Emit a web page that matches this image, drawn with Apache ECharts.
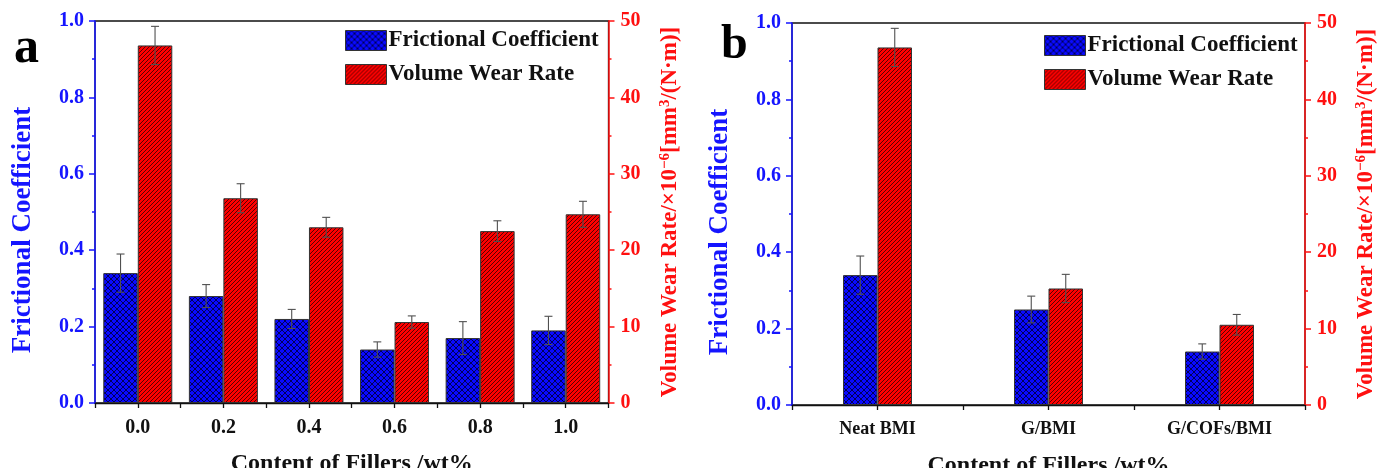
<!DOCTYPE html>
<html>
<head>
<meta charset="utf-8">
<script src="https://cdn.jsdelivr.net/npm/echarts@6/dist/echarts.min.js"></script>
<style>
html,body{margin:0;padding:0;background:#fff;}
#c{width:1379px;height:468px;}
</style>
</head>
<body>
<div id="c"></div>
<script>
// ---------- data ----------
var catsA = ['0.0', '0.2', '0.4', '0.6', '0.8', '1.0'];
var fcA = [0.34, 0.28, 0.22, 0.14, 0.17, 0.19];
var fcErrA = [0.05, 0.03, 0.025, 0.02, 0.043, 0.037];
var vwrA = [46.8, 26.8, 23.0, 10.6, 22.5, 24.7];
var vwrErrA = [2.5, 1.9, 1.3, 0.8, 1.35, 1.7];

var catsB = ['Neat BMI', 'G/BMI', 'G/COFs/BMI'];
var fcB = [0.34, 0.25, 0.14];
var fcErrB = [0.05, 0.035, 0.02];
var vwrB = [46.8, 15.25, 10.5];
var vwrErrB = [2.5, 1.85, 1.35];

var leftTicks = {min: 0, max: 1.0, interval: 0.2};
var rightTicks = {min: 0, max: 50, interval: 10};

// ---------- style ----------
var SERIF = '"Liberation Serif", "Times New Roman", serif';
var BLUE = '#1515ff';
var RED = '#ff1010';
var BAR_W = 34.5;

function makePattern(bg, line, size, cross) {
  var cv = document.createElement('canvas');
  cv.width = size; cv.height = size;
  var ctx = cv.getContext('2d');
  ctx.fillStyle = bg; ctx.fillRect(0, 0, size, size);
  ctx.strokeStyle = line; ctx.lineWidth = 1;
  ctx.beginPath();
  ctx.moveTo(-1, size + 1); ctx.lineTo(size + 1, -1);
  ctx.moveTo(-1, 1); ctx.lineTo(1, -1);
  ctx.moveTo(size - 1, size + 1); ctx.lineTo(size + 1, size - 1);
  if (cross) {
    ctx.moveTo(-1, -1); ctx.lineTo(size + 1, size + 1);
    ctx.moveTo(size - 1, -1); ctx.lineTo(size + 1, 1);
    ctx.moveTo(-1, size - 1); ctx.lineTo(1, size + 1);
  }
  ctx.stroke();
  return cv;
}
var bluePat = {image: makePattern('#0a0aff', '#00005a', 6, true), repeat: 'repeat'};
var redPat = {image: makePattern('#ff0000', '#5a0000', 4, false), repeat: 'repeat'};

function errRenderer(sign) {
  return function (params, api) {
    var x = api.value(0), v = api.value(1), e = api.value(2);
    var hi = api.coord([x, v + e]);
    var lo = api.coord([x, v - e]);
    var cx = hi[0] + sign * BAR_W / 2;
    var cap = 4;
    var st = {stroke: '#505050', lineWidth: 1.1};
    return {
      type: 'group',
      children: [
        {type: 'line', shape: {x1: cx, y1: hi[1], x2: cx, y2: lo[1]}, style: st},
        {type: 'line', shape: {x1: cx - cap, y1: hi[1], x2: cx + cap, y2: hi[1]}, style: st},
        {type: 'line', shape: {x1: cx - cap, y1: lo[1], x2: cx + cap, y2: lo[1]}, style: st}
      ]
    };
  };
}
function errData(vals, errs) {
  return vals.map(function (v, i) { return [i, v, errs[i]]; });
}

var rightNameText = 'Volume Wear Rate/×10{s|−6}[mm{s|3}/(N·m)]';

function buildAxes(cats, gridIndex, labelSize) {
  var xMain = {
    type: 'category', gridIndex: gridIndex, data: cats,
    axisLine: {lineStyle: {color: '#111', width: 1.3}},
    axisTick: {show: true, length: 5, lineStyle: {color: '#111', width: 1.3}},
    axisLabel: {color: '#111', fontFamily: SERIF, fontWeight: 'bold', fontSize: labelSize, margin: 15},
    name: 'Content of Fillers /wt%', nameLocation: 'middle', nameGap: 49,
    nameTextStyle: {color: '#111', fontFamily: SERIF, fontWeight: 'bold', fontSize: 24},
    splitLine: {show: false}
  };
  var xTicks = {
    type: 'category', gridIndex: gridIndex, data: cats, position: 'bottom',
    axisLine: {show: false},
    axisTick: {show: true, alignWithLabel: true, length: 5, lineStyle: {color: '#111', width: 1.3}},
    axisLabel: {show: false}, splitLine: {show: false}
  };
  var yLeft = {
    type: 'value', gridIndex: gridIndex, position: 'left',
    min: leftTicks.min, max: leftTicks.max, interval: leftTicks.interval,
    axisLine: {show: true, lineStyle: {color: BLUE, width: 1.5}},
    axisTick: {show: true, length: 6, lineStyle: {color: BLUE, width: 1.5}},
    minorTick: {show: true, splitNumber: 2, length: 3, lineStyle: {color: BLUE, width: 1.5}},
    axisLabel: {color: BLUE, fontFamily: SERIF, fontWeight: 'bold', fontSize: 20, margin: 11,
      formatter: function (v) { return v.toFixed(1); }},
    splitLine: {show: false},
    name: 'Frictional Coefficient', nameLocation: 'middle', nameRotate: 90, nameGap: 58,
    nameTextStyle: {color: BLUE, fontFamily: SERIF, fontWeight: 'bold', fontSize: 27, padding: [0, 36, 0, 0]}
  };
  var yRight = {
    type: 'value', gridIndex: gridIndex, position: 'right',
    min: rightTicks.min, max: rightTicks.max, interval: rightTicks.interval,
    axisLine: {show: true, lineStyle: {color: RED, width: 1.5}},
    axisTick: {show: true, length: 6, lineStyle: {color: RED, width: 1.5}},
    minorTick: {show: true, splitNumber: 2, length: 3, lineStyle: {color: RED, width: 1.5}},
    axisLabel: {color: RED, fontFamily: SERIF, fontWeight: 'bold', fontSize: 20, margin: 12},
    splitLine: {show: false},
    name: rightNameText, nameLocation: 'middle', nameRotate: 90, nameGap: 49,
    nameTextStyle: {
      color: RED, fontFamily: SERIF, fontWeight: 'bold', fontSize: 23,
      rich: {s: {color: RED, fontFamily: SERIF, fontWeight: 'bold', fontSize: 15, verticalAlign: 'top', padding: [0, 0, 10, 0]}}
    }
  };
  return {x: [xMain, xTicks], y: [yLeft, yRight]};
}

var axA = buildAxes(catsA, 0, 20);
var axB = buildAxes(catsB, 1, 18);

function barSeries(name, xi, yi, data, color) {
  return {
    name: name, type: 'bar', xAxisIndex: xi, yAxisIndex: yi, data: data,
    barWidth: BAR_W, barGap: '0%',
    itemStyle: {color: color, borderColor: '#333', borderWidth: 1}
  };
}
function errSeries(xi, yi, vals, errs, sign) {
  return {
    type: 'custom', xAxisIndex: xi, yAxisIndex: yi, z: 5,
    renderItem: errRenderer(sign), data: errData(vals, errs),
    encode: {x: 0, y: [1]}, silent: true
  };
}

var legendCommon = {
  orient: 'vertical', itemWidth: 41, itemHeight: 20, itemGap: 11,
  icon: 'rect',
  textStyle: {color: '#111', fontFamily: SERIF, fontWeight: 'bold', fontSize: 23, padding: [0, 0, 0, -3]},
  data: ['Frictional Coefficient', 'Volume Wear Rate'],
  itemStyle: {borderColor: '#333', borderWidth: 1}
};

var option = {
  animation: false,
  backgroundColor: '#ffffff',
  grid: [
    {left: 95, top: 21, width: 513.5, height: 382, outerBoundsMode: 'none', containLabel: false,
      show: true, borderColor: '#111', borderWidth: 1.3, backgroundColor: 'transparent'},
    {left: 792, top: 23, width: 513, height: 382, outerBoundsMode: 'none', containLabel: false,
      show: true, borderColor: '#111', borderWidth: 1.3, backgroundColor: 'transparent'}
  ],
  xAxis: [axA.x[0], axA.x[1], axB.x[0], axB.x[1]],
  yAxis: [axA.y[0], axA.y[1], axB.y[0], axB.y[1]],
  legend: [
    Object.assign({}, legendCommon, {left: 340, top: 24}),
    Object.assign({}, legendCommon, {left: 1039, top: 29})
  ],
  graphic: [
    {type: 'text', left: 14, top: 24, style: {text: 'a', font: 'bold 50px ' + SERIF, fill: '#000'}},
    {type: 'text', left: 721, top: 22, style: {text: 'b', font: 'bold 48px ' + SERIF, fill: '#000'}}
  ],
  series: [
    barSeries('Frictional Coefficient', 0, 0, fcA, bluePat),
    barSeries('Volume Wear Rate', 0, 1, vwrA, redPat),
    errSeries(0, 0, fcA, fcErrA, -1),
    errSeries(0, 1, vwrA, vwrErrA, 1),
    barSeries('Frictional Coefficient', 2, 2, fcB, bluePat),
    barSeries('Volume Wear Rate', 2, 3, vwrB, redPat),
    errSeries(2, 2, fcB, fcErrB, -1),
    errSeries(2, 3, vwrB, vwrErrB, 1)
  ]
};

var chart = echarts.init(document.getElementById('c'), null, {renderer: 'canvas'});
chart.setOption(option);
</script>
</body>
</html>
